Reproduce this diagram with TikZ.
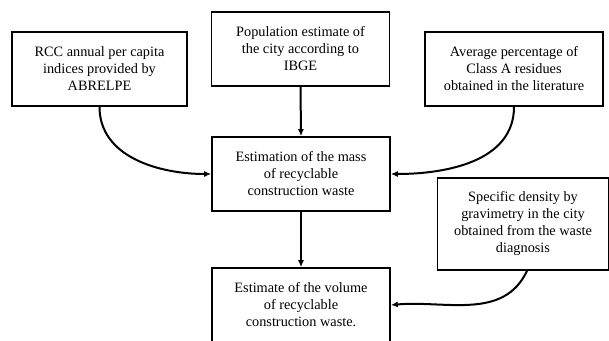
\documentclass[tikz,border=0pt]{standalone}
\usepackage{fontspec}
\setmainfont{Liberation Serif}
\usetikzlibrary{arrows.meta}

\begin{document}
\begin{tikzpicture}[x=1pt, y=1pt,
    box/.style={draw, line width=1.6pt, align=center, font=\fontsize{14.3}{17}\selectfont,
                minimum width=178pt, minimum height=74pt, inner sep=2pt},
    flow/.style={line width=2pt, -{Latex[length=7pt,width=6pt]}}]
    \useasboundingbox (0,0) rectangle (609,-340);

    % fontes de dados (linha de cima)
    \node[box, minimum width=175pt] (rcc) at (99.5,-69) {RCC annual per capita\\indices provided by\\ABRELPE};
    \node[box] (pop) at (300.5,-49) {Population estimate of\\the city according to\\IBGE};
    \node[box] (avg) at (514,-69) {Average percentage of\\Class A residues\\obtained in the literature};

    % etapas de calculo
    \node[box] (mass) at (301,-174) {Estimation of the mass\\of recyclable\\construction waste};
    \node[box] (vol) at (301,-305) {Estimate of the volume\\of recyclable\\construction waste.};

    % densidade especifica
    \node[box, minimum width=171pt, minimum height=92pt] (dens) at (523,-224)
        {Specific density by\\gravimetry in the city\\obtained from the waste\\diagnosis};

    % ligacoes
    \draw[flow] (pop.south) -- (mass.north);
    \draw[flow] (mass.south) -- (vol.north);
    \draw[flow] (rcc.south) to[out=-90, in=180] (mass.west);
    \draw[flow] (avg.south) to[out=-90, in=0] (mass.east);
    \draw[flow] ([xshift=4pt]dens.south) to[out=-115, in=5] (vol.east);
\end{tikzpicture}
\end{document}
